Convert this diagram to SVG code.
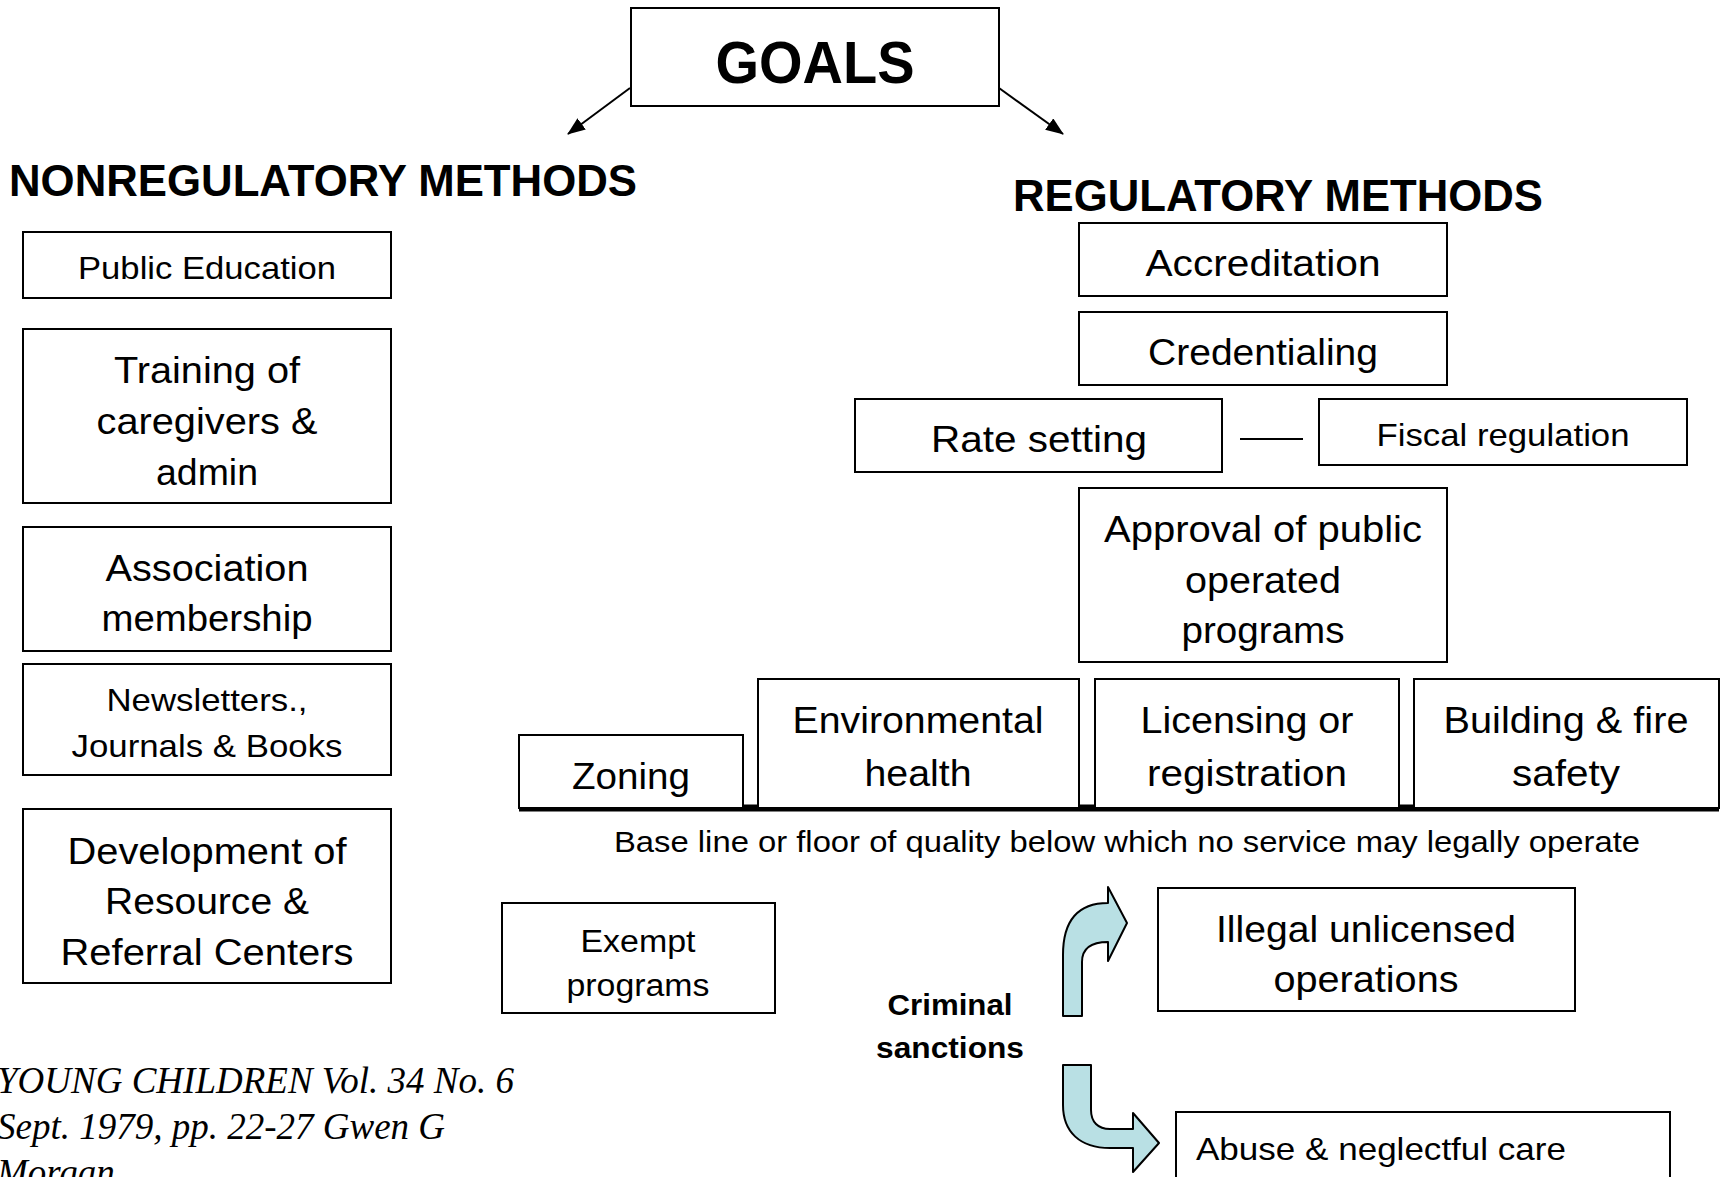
<svg xmlns="http://www.w3.org/2000/svg" width="1723" height="1177" viewBox="0 0 1723 1177">
<style>
  .box { fill: #ffffff; stroke: #000000; stroke-width: 2; }
  .t { font-family: "Liberation Sans", Arial, "Noto Sans CJK JP", sans-serif; fill: #000000; text-anchor: middle; }
  .b { font-weight: bold; }
  .cite { font-family: "Liberation Serif", "Times New Roman", serif; font-style: italic; font-size: 37px; fill: #000000; }
  .conn { stroke: #000000; stroke-width: 2; fill: none; }
  .bent { fill: #b9e0e4; stroke: #000000; stroke-width: 2; stroke-linejoin: round; }
</style>
<defs>
  <marker id="ah" markerUnits="userSpaceOnUse" markerWidth="18" markerHeight="14" viewBox="0 0 18 14" refX="17" refY="7" orient="auto">
    <path d="M0,0 L18,7 L0,14 Z" fill="#000000"/>
  </marker>
</defs>
<rect width="1723" height="1177" fill="#ffffff"/>

<g id="connectors">
  <line class="conn" x1="630" y1="88" x2="568" y2="134" marker-end="url(#ah)"/>
  <line class="conn" x1="999" y1="88" x2="1063" y2="134" marker-end="url(#ah)"/>
  <line class="conn" x1="1240" y1="439" x2="1303" y2="439"/>
  <line x1="519" y1="808" x2="1719" y2="808" stroke="#000000" stroke-width="7"/>
  <path class="bent" d="M1063,1016 L1063,955 C1063,920 1078,903 1108,903 L1108,887 L1127,923 L1108,961 L1108,942 C1093,942 1082,947 1082,962 L1082,1016 Z"/>
  <path class="bent" d="M1063,1065 L1091,1065 L1091,1110 C1091,1122 1098,1129 1110,1129 L1133,1129 L1133,1113 L1159,1143 L1133,1172 L1133,1148 L1110,1148 C1080,1148 1063,1132 1063,1105 Z"/>
</g>

<g id="goals">
  <rect class="box" x="631" y="8" width="368" height="98"/>
  <text class="t b" x="815" y="83" font-size="60" textLength="199" lengthAdjust="spacingAndGlyphs">GOALS</text>
</g>

<g id="nonregulatory-heading">
  <text class="t b" x="323" y="196" font-size="45" textLength="628" lengthAdjust="spacingAndGlyphs">NONREGULATORY METHODS</text>
</g>
<g id="regulatory-heading">
  <text class="t b" x="1278" y="211" font-size="45" textLength="530" lengthAdjust="spacingAndGlyphs">REGULATORY METHODS</text>
</g>

<g id="public-education">
  <rect class="box" x="23" y="232" width="368" height="66"/>
  <text class="t" x="207" y="279" font-size="32" textLength="258" lengthAdjust="spacingAndGlyphs">Public Education</text>
</g>
<g id="training">
  <rect class="box" x="23" y="329" width="368" height="174"/>
  <text class="t" x="207" y="383" font-size="36" textLength="186" lengthAdjust="spacingAndGlyphs">Training of</text>
  <text class="t" x="207" y="434" font-size="36" textLength="221" lengthAdjust="spacingAndGlyphs">caregivers &amp;</text>
  <text class="t" x="207" y="485" font-size="36" textLength="102" lengthAdjust="spacingAndGlyphs">admin</text>
</g>
<g id="association">
  <rect class="box" x="23" y="527" width="368" height="124"/>
  <text class="t" x="207" y="581" font-size="36" textLength="203" lengthAdjust="spacingAndGlyphs">Association</text>
  <text class="t" x="207" y="631" font-size="36" textLength="211" lengthAdjust="spacingAndGlyphs">membership</text>
</g>
<g id="newsletters">
  <rect class="box" x="23" y="664" width="368" height="111"/>
  <text class="t" x="207" y="711" font-size="32" textLength="201" lengthAdjust="spacingAndGlyphs">Newsletters.,</text>
  <text class="t" x="207" y="757" font-size="32" textLength="271" lengthAdjust="spacingAndGlyphs">Journals &amp; Books</text>
</g>
<g id="development">
  <rect class="box" x="23" y="809" width="368" height="174"/>
  <text class="t" x="207" y="864" font-size="36" textLength="279" lengthAdjust="spacingAndGlyphs">Development of</text>
  <text class="t" x="207" y="914" font-size="36" textLength="204" lengthAdjust="spacingAndGlyphs">Resource &amp;</text>
  <text class="t" x="207" y="965" font-size="36" textLength="293" lengthAdjust="spacingAndGlyphs">Referral Centers</text>
</g>

<g id="accreditation">
  <rect class="box" x="1079" y="223" width="368" height="73"/>
  <text class="t" x="1263" y="276" font-size="37" textLength="235" lengthAdjust="spacingAndGlyphs">Accreditation</text>
</g>
<g id="credentialing">
  <rect class="box" x="1079" y="312" width="368" height="73"/>
  <text class="t" x="1263" y="365" font-size="37" textLength="230" lengthAdjust="spacingAndGlyphs">Credentialing</text>
</g>
<g id="rate-setting">
  <rect class="box" x="855" y="399" width="367" height="73"/>
  <text class="t" x="1039" y="452" font-size="37" textLength="216" lengthAdjust="spacingAndGlyphs">Rate setting</text>
</g>
<g id="fiscal-regulation">
  <rect class="box" x="1319" y="399" width="368" height="66"/>
  <text class="t" x="1503" y="446" font-size="32" textLength="253" lengthAdjust="spacingAndGlyphs">Fiscal regulation</text>
</g>
<g id="approval">
  <rect class="box" x="1079" y="488" width="368" height="174"/>
  <text class="t" x="1263" y="542" font-size="37" textLength="318" lengthAdjust="spacingAndGlyphs">Approval of public</text>
  <text class="t" x="1263" y="593" font-size="37" textLength="156" lengthAdjust="spacingAndGlyphs">operated</text>
  <text class="t" x="1263" y="643" font-size="37" textLength="163" lengthAdjust="spacingAndGlyphs">programs</text>
</g>

<g id="zoning">
  <rect class="box" x="519" y="735" width="224" height="73"/>
  <text class="t" x="631" y="789" font-size="36" textLength="118" lengthAdjust="spacingAndGlyphs">Zoning</text>
</g>
<g id="environmental-health">
  <rect class="box" x="758" y="679" width="321" height="129"/>
  <text class="t" x="918" y="733" font-size="36" textLength="251" lengthAdjust="spacingAndGlyphs">Environmental</text>
  <text class="t" x="918" y="786" font-size="36" textLength="107" lengthAdjust="spacingAndGlyphs">health</text>
</g>
<g id="licensing">
  <rect class="box" x="1095" y="679" width="304" height="129"/>
  <text class="t" x="1247" y="733" font-size="36" textLength="213" lengthAdjust="spacingAndGlyphs">Licensing or</text>
  <text class="t" x="1247" y="786" font-size="36" textLength="200" lengthAdjust="spacingAndGlyphs">registration</text>
</g>
<g id="building-fire">
  <rect class="box" x="1414" y="679" width="305" height="129"/>
  <text class="t" x="1566" y="733" font-size="36" textLength="245" lengthAdjust="spacingAndGlyphs">Building &amp; fire</text>
  <text class="t" x="1566" y="786" font-size="36" textLength="108" lengthAdjust="spacingAndGlyphs">safety</text>
</g>

<g id="baseline-label">
  <text class="t" x="1127" y="852" font-size="30" textLength="1026" lengthAdjust="spacingAndGlyphs">Base line or floor of quality below which no service may legally operate</text>
</g>

<g id="exempt">
  <rect class="box" x="502" y="903" width="273" height="110"/>
  <text class="t" x="638" y="952" font-size="31" textLength="115" lengthAdjust="spacingAndGlyphs">Exempt</text>
  <text class="t" x="638" y="996" font-size="31" textLength="143" lengthAdjust="spacingAndGlyphs">programs</text>
</g>

<g id="criminal-sanctions">
  <text class="t b" x="950" y="1015" font-size="29" textLength="125" lengthAdjust="spacingAndGlyphs">Criminal</text>
  <text class="t b" x="950" y="1058" font-size="29" textLength="148" lengthAdjust="spacingAndGlyphs">sanctions</text>
</g>

<g id="illegal">
  <rect class="box" x="1158" y="888" width="417" height="123"/>
  <text class="t" x="1366" y="942" font-size="36" textLength="300" lengthAdjust="spacingAndGlyphs">Illegal unlicensed</text>
  <text class="t" x="1366" y="992" font-size="36" textLength="185" lengthAdjust="spacingAndGlyphs">operations</text>
</g>

<g id="abuse">
  <rect class="box" x="1176" y="1112" width="494" height="90"/>
  <text class="t" x="1196" y="1160" font-size="32" style="text-anchor:start" textLength="370" lengthAdjust="spacingAndGlyphs">Abuse &amp; neglectful care</text>
</g>

<g id="citation">
  <text class="cite" x="-3" y="1093">YOUNG CHILDREN Vol. 34 No. 6</text>
  <text class="cite" x="-3" y="1139">Sept. 1979, pp. 22-27 Gwen G</text>
  <text class="cite" x="-3" y="1185">Morgan</text>
</g>
</svg>
